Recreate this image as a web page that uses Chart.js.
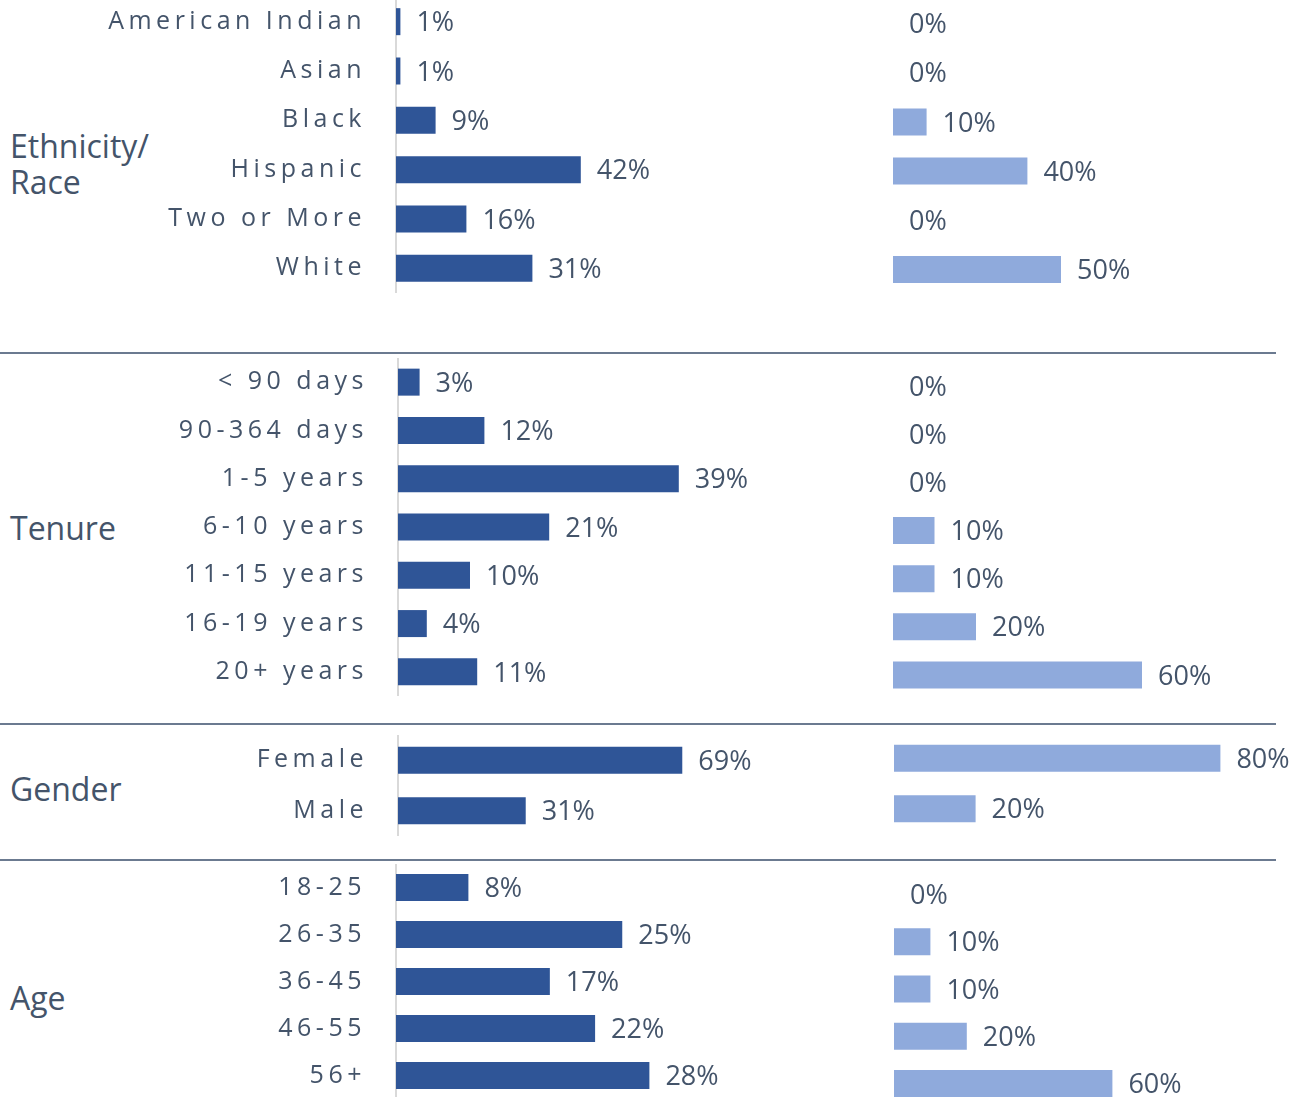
<!DOCTYPE html>
<html>
<head>
<meta charset="utf-8">
<script src="https://cdn.jsdelivr.net/npm/chart.js@4.4.1/dist/chart.umd.min.js"></script>
<style>
  body { margin: 0; background: #fff; }
  #page { position: relative; width: 1308px; height: 1097px; overflow: hidden;
          font-family: 'Open Sans', sans-serif; color: #44546A; }
  #page canvas { position: absolute; }
  .group { position: absolute; left: 10px; font-size: 32px; line-height: 36px; }
  .rule { position: absolute; left: 0; width: 1276px; height: 2px; background: #6B7A90; }
</style>
</head>
<body>
<div id="page">
  <div class="group" style="top:128px">Ethnicity/<br>Race</div>
  <div class="group" style="top:510px">Tenure</div>
  <div class="group" style="top:771px">Gender</div>
  <div class="group" style="top:980px">Age</div>

  <div class="rule" style="top:352px"></div>
  <div class="rule" style="top:723px"></div>
  <div class="rule" style="top:859px"></div>

  <canvas id="ethLeft"></canvas>
  <canvas id="ethRight"></canvas>
  <canvas id="tenLeft"></canvas>
  <canvas id="tenRight"></canvas>
  <canvas id="genLeft"></canvas>
  <canvas id="genRight"></canvas>
  <canvas id="ageLeft"></canvas>
  <canvas id="ageRight"></canvas>
</div>
<script>
// datos por grupo (porcentajes)
const ethnicityLabels = ['American Indian', 'Asian', 'Black', 'Hispanic', 'Two or More', 'White'];
const ethnicityLeft = [1, 1, 9, 42, 16, 31];
const ethnicityRight = [0, 0, 10, 40, 0, 50];

const tenureLabels = ['< 90 days', '90-364 days', '1-5 years', '6-10 years', '11-15 years', '16-19 years', '20+ years'];
const tenureLeft = [3, 12, 39, 21, 10, 4, 11];
const tenureRight = [0, 0, 0, 10, 10, 20, 60];

const genderLabels = ['Female', 'Male'];
const genderLeft = [69, 31];
const genderRight = [80, 20];

const ageLabels = ['18-25', '26-35', '36-45', '46-55', '56+'];
const ageLeft = [8, 25, 17, 22, 28];
const ageRight = [0, 10, 10, 20, 60];

const DARK = '#2F5597';
const LIGHT = '#8FAADC';
const TEXT = '#44546A';

// etiquetas de valor al final de cada barra
const valueLabels = {
    id: 'valueLabels',
    beforeDraw(chart) {
        chart.ctx.letterSpacing = '4.5px'; // espaciado de las categorias
    },
    afterDatasetsDraw(chart) {
        const ctx = chart.ctx;
        ctx.save();
        ctx.letterSpacing = '0px';
        ctx.font = '27px "Open Sans"';
        ctx.fillStyle = TEXT;
        ctx.textAlign = 'left';
        ctx.textBaseline = 'middle';
        const values = chart.data.datasets[0].data;
        chart.getDatasetMeta(0).data.forEach((bar, i) => {
            ctx.fillText(values[i] + '%', bar.x + 16, bar.y + 2);
        });
        ctx.restore();
    }
};

function drawPanel(id, labels, values, color, pos) {
    const canvas = document.getElementById(id);
    const axisW = pos.showLabels ? pos.x : 0;
    canvas.width = Math.round(axisW + pos.perPct * 100);
    canvas.height = Math.round(labels.length * pos.pitch);
    canvas.style.left = Math.round(pos.x - axisW) + 'px';
    canvas.style.top = Math.round(pos.center - pos.pitch / 2) + 'px';

    new Chart(canvas.getContext('2d'), {
        type: 'bar',
        data: {
            labels: labels,
            datasets: [{
                data: values,
                backgroundColor: c => (c.raw === 0 ? 'rgba(0,0,0,0)' : color),
                barThickness: 27,
                borderWidth: 0,
                inflateAmount: 0
            }]
        },
        options: {
            indexAxis: 'y',
            responsive: false,
            animation: false,
            devicePixelRatio: 1,
            layout: { padding: 0 },
            scales: {
                x: { display: false, min: 0, max: 100 },
                y: {
                    display: pos.showLabels,
                    afterFit(scale) {
                        scale.width = axisW;
                        scale.paddingTop = 0;
                        scale.paddingBottom = 0;
                    },
                    grid: { display: false, drawTicks: false },
                    border: { display: true, color: '#D9D9D9', width: 2 },
                    ticks: {
                        autoSkip: false,
                        padding: 30,
                        color: TEXT,
                        font: { family: 'Open Sans', size: 25 }
                    }
                }
            },
            plugins: {
                legend: { display: false },
                tooltip: { enabled: false }
            }
        },
        plugins: [valueLabels]
    });
}

drawPanel('ethLeft', ethnicityLabels, ethnicityLeft, DARK, { x: 396, center: 21.7, pitch: 49.26, perPct: 4.4, showLabels: true });
drawPanel('ethRight', ethnicityLabels, ethnicityRight, LIGHT, { x: 893, center: 24, pitch: 49.2, perPct: 3.36, showLabels: false });
drawPanel('tenLeft', tenureLabels, tenureLeft, DARK, { x: 398, center: 382.2, pitch: 48.3, perPct: 7.2, showLabels: true });
drawPanel('tenRight', tenureLabels, tenureRight, LIGHT, { x: 893, center: 385.8, pitch: 48.2, perPct: 4.15, showLabels: false });
drawPanel('genLeft', genderLabels, genderLeft, DARK, { x: 398, center: 760.5, pitch: 50.5, perPct: 4.12, showLabels: true });
drawPanel('genRight', genderLabels, genderRight, LIGHT, { x: 894, center: 758.2, pitch: 50.3, perPct: 4.08, showLabels: false });
drawPanel('ageLeft', ageLabels, ageLeft, DARK, { x: 396, center: 887.5, pitch: 46.9, perPct: 9.05, showLabels: true });
drawPanel('ageRight', ageLabels, ageRight, LIGHT, { x: 894, center: 894.8, pitch: 47.2, perPct: 3.64, showLabels: false });
</script>
</body>
</html>
